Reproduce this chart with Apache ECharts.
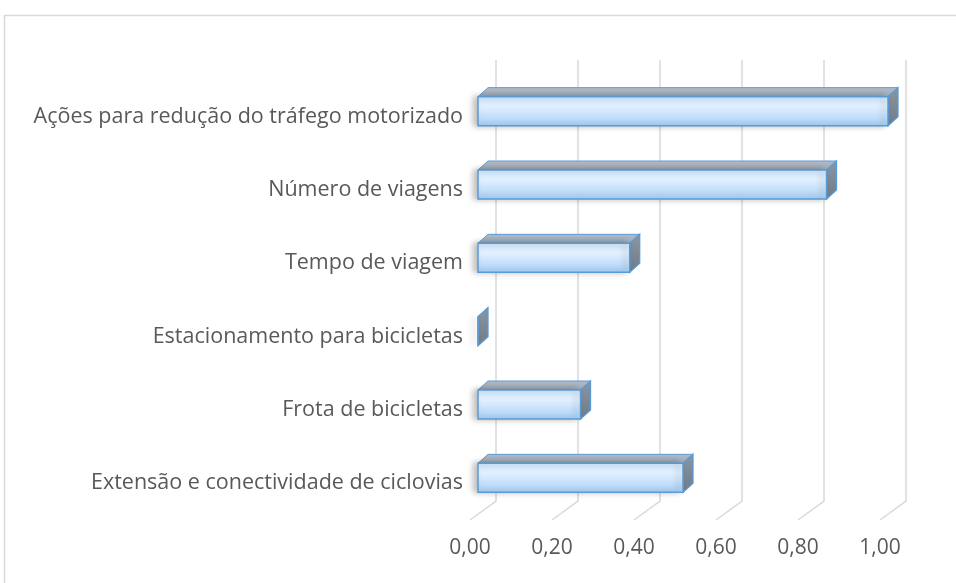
<!DOCTYPE html>
<html>
<head>
<meta charset="utf-8">
<script src="https://cdn.jsdelivr.net/npm/echarts@6/dist/echarts.min.js"></script>
<style>
  html, body { margin: 0; padding: 0; background: #fff; }
  #chart { width: 956px; height: 583px; }
</style>
</head>
<body>
<div id="chart"></div>
<script>
const categories = [
  'Ações para redução do tráfego motorizado',
  'Número de viagens',
  'Tempo de viagem',
  'Estacionamento para bicicletas',
  'Frota de bicicletas',
  'Extensão e conectividade de ciclovias'
]
const values = [1.00, 0.85, 0.37, 0, 0.25, 0.50]
const ticks = [0, 0.2, 0.4, 0.6, 0.8, 1.0]

// 3d look, pixels
const barShift = 8     // bar front face behind the floor edge
const depthX = 10
const depthY = -9
const barH = 29
const wallX = 26       // back wall offset
const wallY = -19

const chart = echarts.init(document.getElementById('chart'), null, { renderer: 'canvas' })

const frontFill = new echarts.graphic.LinearGradient(0, 0, 0, 1, [
  { offset: 0, color: '#cfe5fb' },
  { offset: 0.35, color: '#e1f0ff' },
  { offset: 1, color: '#a6cff5' }
])
const topFill = new echarts.graphic.LinearGradient(0, 0, 0, 1, [
  { offset: 0, color: '#b3bcc5' },
  { offset: 1, color: '#9aa8b6' }
])
const sideFill = new echarts.graphic.LinearGradient(0, 0, 0, 1, [
  { offset: 0, color: '#8b96a2' },
  { offset: 1, color: '#6f7b88' }
])
const edge = '#5b9bd5'
const font = '"Open Sans"'

function renderGrid(params, api) {
  const cs = params.coordSys
  const fx = api.coord([api.value(0), 0])[0]
  const fy = cs.y + cs.height
  return {
    type: 'polyline',
    shape: { points: [[fx + wallX, cs.y - 20], [fx + wallX, fy + wallY], [fx, fy]] },
    style: { stroke: '#d9d9d9', lineWidth: 1.5, fill: null },
    silent: true
  }
}

function renderBar(params, api) {
  const v = api.value(0)
  const c = api.value(1)
  const p0 = api.coord([0, c])
  const p1 = api.coord([v, c])
  const x0 = p0[0] + barShift
  const x1 = p1[0] + barShift
  const y0 = p0[1] - 5.5 - barH / 2
  const y1 = y0 + barH
  return {
    type: 'group',
    children: [
      {
        type: 'polygon',
        shape: { points: [[x0, y0], [x0 + depthX, y0 + depthY], [x1 + depthX, y0 + depthY], [x1, y0]] },
        style: { fill: topFill, stroke: edge, lineWidth: 1 }
      },
      {
        type: 'polygon',
        shape: { points: [[x1, y0], [x1 + depthX, y0 + depthY], [x1 + depthX, y1 + depthY], [x1, y1]] },
        style: { fill: sideFill, stroke: edge, lineWidth: 1.3 }
      },
      {
        type: 'rect',
        shape: { x: x0, y: y0, width: x1 - x0, height: barH },
        style: {
          fill: frontFill, stroke: edge, lineWidth: 1.5,
          shadowColor: 'rgba(0,0,0,0.25)', shadowBlur: 6, shadowOffsetX: -4
        }
      }
    ]
  }
}

chart.setOption({
  animation: false,
  graphic: [{
    type: 'rect',
    shape: { x: 4.5, y: 15.5, width: 1000, height: 1000 },
    style: { fill: null, stroke: '#d9d9d9', lineWidth: 1.5 },
    silent: true
  }],
  grid: { left: 470, right: 76, top: 80, bottom: 63 },
  xAxis: {
    type: 'value',
    min: 0,
    max: 1,
    interval: 0.2,
    axisLine: { show: false },
    axisTick: { show: false },
    splitLine: { show: false },
    axisLabel: {
      margin: 18,
      color: '#595959',
      fontSize: 21,
      fontFamily: font,
      formatter: v => v.toFixed(2).replace('.', ',')
    }
  },
  yAxis: {
    type: 'category',
    inverse: true,
    data: categories,
    axisLine: { show: false },
    axisTick: { show: false },
    axisLabel: {
      margin: 7,
      padding: [4, 0, 0, 0],
      color: '#595959',
      fontSize: 21.5,
      fontFamily: font
    }
  },
  series: [
    {
      type: 'custom',
      clip: false,
      silent: true,
      z: 1,
      renderItem: renderGrid,
      encode: { x: 0, y: 1 },
      data: ticks.map(t => [t, 0])
    },
    {
      type: 'custom',
      clip: false,
      z: 2,
      renderItem: renderBar,
      encode: { x: 0, y: 1 },
      data: values.map((v, i) => [v, i])
    }
  ]
})
</script>
</body>
</html>
